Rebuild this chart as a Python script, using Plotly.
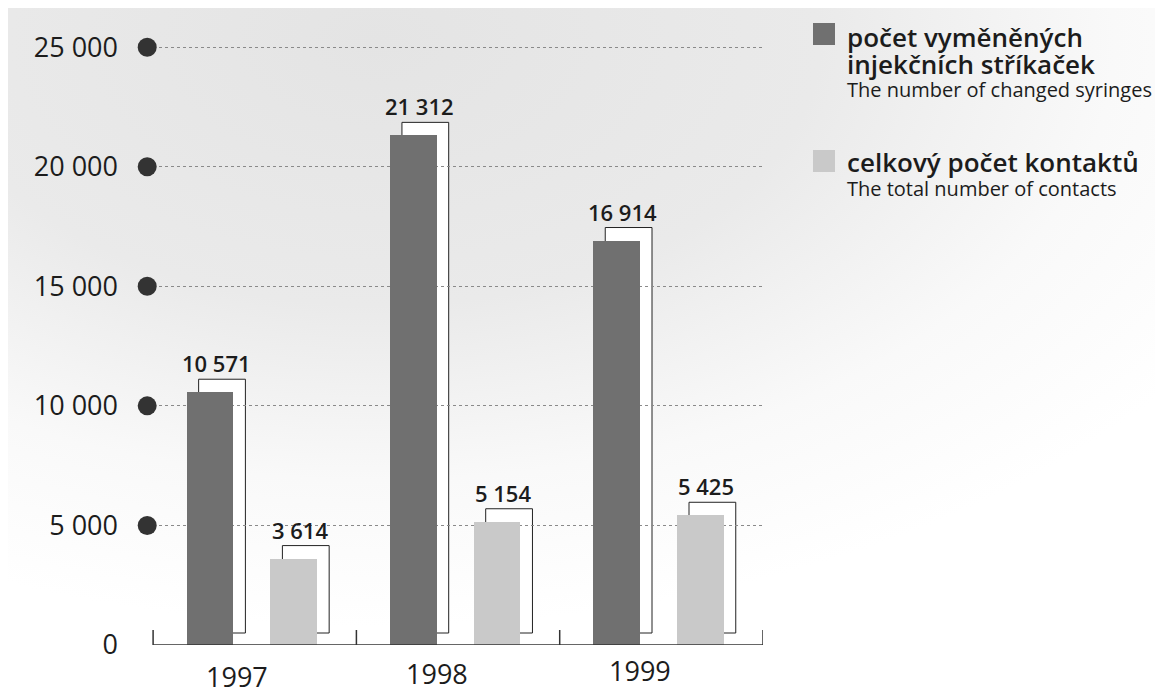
import base64
import plotly.graph_objects as go

# ---------------- data ----------------
years = ["1997", "1998", "1999"]
syringes = [10571, 21312, 16914]          # počet vyměněných injekčních stříkaček
contacts = [3614, 5154, 5425]             # celkový počet kontaktů
y_tick_vals = [0, 5000, 10000, 15000, 20000, 25000]
y_tick_text = ["0", "5 000", "10 000", "15 000", "20 000", "25 000"]
dot_vals = [5000, 10000, 15000, 20000, 25000]

series_names = ["počet vyměněných injekčních stříkaček", "celkový počet kontaktů"]
legend_lines = [
    ["počet vyměněných", "injekčních stříkaček", "The number of changed syringes"],
    ["celkový počet kontaktů", "The total number of contacts"],
]

# ---------------- style / layout constants ----------------
PAGE = 8                                  # default body margin of the html page
W, H = 1163 - PAGE, 695 - PAGE
# plot area in reference (page) pixels
L, R, T, B = 147, 763, 40, 645
XR = [-0.53, 2.5]
YR = [0, 25300]
DARK = "#707070"
LIGHT = "#c9c9c9"
INK = "#1c1c1c"
FONT = "Open Sans"

px_per_x = (R - L) / (XR[1] - XR[0])
units_per_py = (YR[1] - YR[0]) / (B - T)

def fx(px):   # page px -> paper x
    return (px - L) / (R - L)

def fy(py):   # page px -> paper y
    return (B - py) / (B - T)

bar_w = 0.23
offsets = [-0.335, 0.077]
colors = [DARK, LIGHT]
values = [syringes, contacts]
xs = list(range(len(years)))

fig = go.Figure()

# dots on y ticks (at the left edge of the plotting area)
fig.add_trace(go.Scatter(
    x=[XR[0] + 0.001] * len(dot_vals), y=dot_vals, mode="markers",
    marker=dict(size=19, color="#333333"), cliponaxis=False,
    showlegend=False, hoverinfo="skip"))

for name, vals, off, col in zip(series_names, values, offsets, colors):
    fig.add_trace(go.Bar(
        x=xs, y=vals, name=name, width=bar_w, offset=off,
        marker=dict(color=col, line=dict(width=0)), showlegend=False))

shapes = []
annotations = []

# baseline with category boundaries
bounds = [-0.5, 0.5, 1.5, 2.5]
shapes.append(dict(type="line", xref="x", yref="y", x0=bounds[0], x1=bounds[-1],
                   y0=0, y1=0, line=dict(color="#333333", width=1.5)))
tick_len = 15 * units_per_py
for bx in bounds:
    shapes.append(dict(type="line", xref="x", yref="y", x0=bx, x1=bx,
                       y0=0, y1=tick_len, line=dict(color="#333333", width=1.5)))

dx = 12 / px_per_x
dy_top = 13 * units_per_py
dy_bot = 12 * units_per_py
for vals, off in zip(values, offsets):
    for i, v in zip(xs, vals):
        x0 = i + off + dx
        x1 = i + off + bar_w + dx
        shapes.append(dict(type="rect", xref="x", yref="y", x0=x0, x1=x1,
                           y0=dy_bot, y1=v + dy_top, fillcolor="white",
                           line=dict(color="#222222", width=1), layer="below"))
        annotations.append(dict(
            x=i + off + bar_w / 2 + dx / 2, y=v, xref="x", yref="y",
            text=f"{v:,}".replace(",", " "), showarrow=False,
            yanchor="bottom", yshift=12,
            font=dict(family=FONT, size=22, color=INK, weight=600)))

# year labels
year_shift = [-18, -21, -21]
year_py = [676, 673, 670]
for i, (yr, s, py) in enumerate(zip(years, year_shift, year_py)):
    annotations.append(dict(
        x=i, y=fy(py), xref="x", yref="paper", text=yr, showarrow=False,
        xshift=s, yanchor="middle", xanchor="center", borderpad=0,
        font=dict(family=FONT, size=27, color=INK)))

# legend (manual)
leg_sq = [(813, 23), (813, 150)]
leg_cols = [DARK, LIGHT]
leg_line_py = [[37, 64, 89], [162, 188]]
leg_sizes = [[26, 26, 20], [26, 20]]
leg_weights = [[600, 600, 400], [600, 400]]
for (sx, sy), col, lines, pys, sizes, wts in zip(leg_sq, leg_cols, legend_lines,
                                                 leg_line_py, leg_sizes, leg_weights):
    shapes.append(dict(type="rect", xref="paper", yref="paper",
                       x0=fx(sx), x1=fx(sx + 22), y0=fy(sy + 22), y1=fy(sy),
                       fillcolor=col, line=dict(width=0)))
    for txt, py, sz, wt in zip(lines, pys, sizes, wts):
        annotations.append(dict(
            x=fx(846), y=fy(py), xref="paper", yref="paper", text=txt,
            showarrow=False, xanchor="left", yanchor="middle", borderpad=0,
            font=dict(family=FONT, size=sz, color=INK, weight=wt)))

# soft grey background
svg = (f"<svg xmlns='http://www.w3.org/2000/svg' width='{W}' height='{H}'>"
       "<defs><radialGradient id='g' cx='0.32' cy='0.05' r='0.85'>"
       "<stop offset='0' stop-color='#e4e4e4'/>"
       "<stop offset='0.45' stop-color='#eaeaea'/>"
       "<stop offset='0.75' stop-color='#f9f9f9'/>"
       "<stop offset='1' stop-color='#ffffff'/>"
       "</radialGradient></defs>"
       "<rect width='100%' height='100%' fill='url(#g)'/></svg>")
bg_src = "data:image/svg+xml;base64," + base64.b64encode(svg.encode()).decode()

fig.update_layout(
    width=W, height=H, autosize=False,
    margin=dict(l=L - PAGE, r=1163 - R, t=T - PAGE, b=695 - B, pad=0),
    paper_bgcolor="white", plot_bgcolor="rgba(0,0,0,0)",
    showlegend=False, bargap=0,
    shapes=shapes, annotations=annotations,
    images=[dict(source=bg_src, xref="paper", yref="paper",
                 x=fx(PAGE), y=fy(PAGE), sizex=W / (R - L), sizey=H / (B - T),
                 xanchor="left", yanchor="top", sizing="stretch", layer="below")],
    font=dict(family=FONT, color=INK),
    xaxis=dict(range=XR, showgrid=False, zeroline=False, showline=False,
               showticklabels=False, ticks=""),
    yaxis=dict(range=YR, tickvals=y_tick_vals, ticktext=y_tick_text,
               ticks="", ticklabelstandoff=28, showline=False, zeroline=False,
               showgrid=True, gridcolor="#8a8a8a", griddash="dot", gridwidth=1,
               tickfont=dict(family=FONT, size=27, color=INK)),
)

fig.write_html("out.html")
